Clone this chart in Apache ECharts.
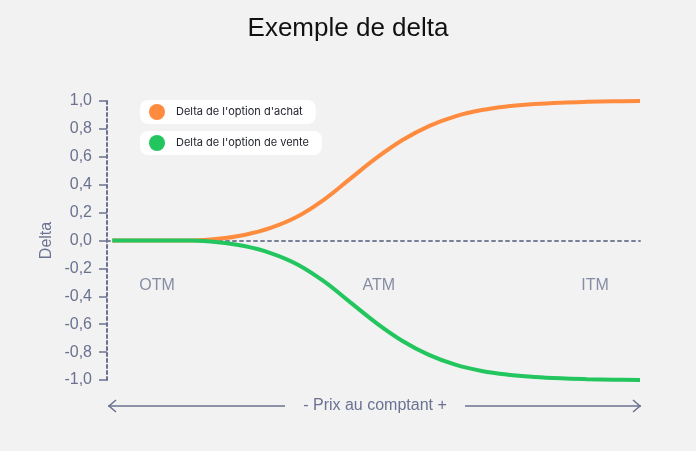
<!DOCTYPE html>
<html>
<head>
<meta charset="utf-8">
<script src="https://cdn.jsdelivr.net/npm/echarts@6/dist/echarts.min.js"></script>
<style>
html,body{margin:0;padding:0;background:#f2f2f2;}
#c{width:696px;height:451px;}
</style>
</head>
<body>
<div id="c"></div>
<script>
// Spot price positions (arbitrary scale 0..100)
const prix = [0,5,10,15,20,25,30,35,40,45,50,55,60,65,70,75,80,85,90,95,100];
// Call option delta
const deltaAchat = [0,0,0,0,0.012,0.04,0.09,0.17,0.29,0.44,0.59,0.72,0.82,0.89,0.935,0.962,0.978,0.988,0.994,0.998,1.0];
// Put option delta
const deltaVente = [0,0,0,0,-0.012,-0.04,-0.09,-0.17,-0.29,-0.44,-0.59,-0.72,-0.82,-0.89,-0.935,-0.962,-0.978,-0.988,-0.994,-0.998,-1.0];
// Moneyness zone labels
const zones = ['OTM','ATM','ITM'];
const zonesX = [8.5,50.5,91.5];
const zonesY = [-0.32,-0.32,-0.32];
const names = ["Delta de l'option d'achat","Delta de l'option de vente"];

const slate = '#6b7291';
const font = '"Liberation Sans", Arial, sans-serif';
const chart = echarts.init(document.getElementById('c'));
const legendCommon = {
  left: 140, icon: 'circle', itemWidth: 16, itemHeight: 16,
  backgroundColor: '#ffffff', borderRadius: 8, padding: [4, 13, 4, 9],
  selectedMode: false,
  textStyle: {color: '#23252e', fontSize: 11, fontFamily: 'Inter, sans-serif', padding: [0,0,0,6]}
};
chart.setOption({
  backgroundColor: '#f2f2f2',
  animation: false,
  title: {
    text: 'Exemple de delta', left: 'center', top: 11,
    textStyle: {color: '#111111', fontSize: 26, fontWeight: 'normal', fontFamily: font}
  },
  legend: [
    Object.assign({top: 100, data: [names[0]]}, legendCommon),
    Object.assign({top: 131, data: [names[1]]}, legendCommon)
  ],
  grid: {left: 107, right: 56, top: 101, bottom: 71, containLabel: false},
  xAxis: {
    type: 'value', min: -1, max: 100,
    axisLine: {show: true, onZero: true, lineStyle: {color: '#7a8098', width: 2, type: [3, 4]}},
    axisTick: {show: false}, axisLabel: {show: false}, splitLine: {show: false}
  },
  yAxis: {
    type: 'value', min: -1, max: 1, interval: 0.2,
    name: 'Delta', nameLocation: 'middle', nameGap: 52, nameRotate: 90,
    nameMoveOverlap: false,
    nameTextStyle: {color: slate, fontSize: 16, fontFamily: font},
    axisLine: {show: true, onZero: false, lineStyle: {color: slate, width: 2, type: [3, 3]}},
    axisTick: {show: true, length: 8, lineStyle: {color: slate, width: 1.5, type: 'solid'}},
    axisLabel: {
      color: slate, fontSize: 16, fontFamily: font, margin: 15,
      formatter: v => (Math.abs(v) < 1e-9 ? 0 : v).toFixed(1).replace('.', ',')
    },
    splitLine: {show: false}
  },
  series: [
    {
      name: names[0], type: 'line', smooth: 0.4, showSymbol: false,
      color: '#ff8b3f', lineStyle: {width: 4, color: '#ff8b3f'},
      data: prix.map((p, i) => [p, deltaAchat[i]])
    },
    {
      name: names[1], type: 'line', smooth: 0.4, showSymbol: false,
      color: '#22c55e', lineStyle: {width: 4, color: '#22c55e'},
      data: prix.map((p, i) => [p, deltaVente[i]])
    },
    {
      name: 'zones', type: 'scatter', symbolSize: 0, silent: true,
      label: {show: true, position: 'inside', formatter: p => p.data.name,
        color: slate, fontSize: 16, fontFamily: font},
      data: zones.map((z, i) => ({name: z, value: [zonesX[i], zonesY[i]]}))
    }
  ],
  graphic: [
    {type: 'line', shape: {x1: 108, y1: 406, x2: 285, y2: 406}, style: {stroke: slate, lineWidth: 1.5}},
    {type: 'polyline', shape: {points: [[116, 400], [109, 406], [116, 412]]}, style: {stroke: slate, lineWidth: 1.5, fill: null}},
    {type: 'line', shape: {x1: 465, y1: 406, x2: 641, y2: 406}, style: {stroke: slate, lineWidth: 1.5}},
    {type: 'polyline', shape: {points: [[633, 400], [640, 406], [633, 412]]}, style: {stroke: slate, lineWidth: 1.5, fill: null}},
    {type: 'text', x: 375, y: 406, style: {text: '- Prix au comptant +', fill: slate, fontSize: 16, fontFamily: font, textAlign: 'center', textVerticalAlign: 'middle'}}
  ]
});
</script>
</body>
</html>
